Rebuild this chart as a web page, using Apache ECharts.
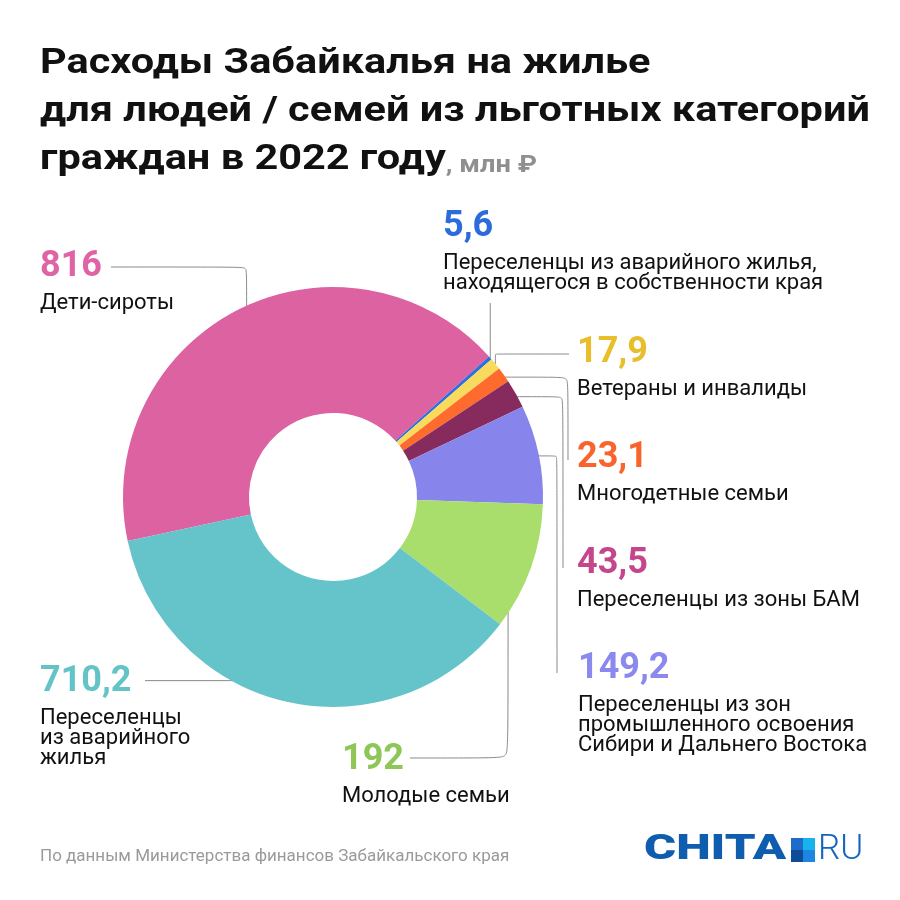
<!DOCTYPE html>
<html>
<head>
<meta charset="utf-8">
<script src="https://cdn.jsdelivr.net/npm/echarts@6.0.0/dist/echarts.min.js"></script>
<style>
html,body{margin:0;padding:0;background:#fff;}
#chart{width:900px;height:900px;}
</style>
</head>
<body>
<div id="chart"></div>
<script>
// ---- data ----
const titleLines = ['Расходы Забайкалья на жилье', 'для людей / семей из льготных категорий', 'граждан в 2022 году'];
const unitText = ', млн ₽';
const sourceText = 'По данным Министерства финансов Забайкальского края';
const categories = [
  'Дети-сироты',
  'Переселенцы из аварийного жилья,\nнаходящегося в собственности края',
  'Ветераны и инвалиды',
  'Многодетные семьи',
  'Переселенцы из зоны БАМ',
  'Переселенцы из зон\nпромышленного освоения\nСибири и Дальнего Востока',
  'Молодые семьи',
  'Переселенцы\nиз аварийного\nжилья'
];
const values = [816, 5.6, 17.9, 23.1, 43.5, 149.2, 192, 710.2];

// ---- styles ----
const sliceColors = ['#DD62A2', '#2D6FDE', '#F8DA5C', '#FF6B2C', '#872B5E', '#8785EC', '#A9DE6D', '#64C4C9'];
const labelColors = ['#E064A5', '#2B6BDC', '#E9BE2C', '#FA642C', '#C4478D', '#8B88EE', '#8EC658', '#63C3C7'];
const CX = 333, CY = 497, R0 = 84, R1 = 210, START = 192.1;
const NUM_LH = 53;
// label placement: x = left of text, y = centre of the number line; leader line routing
const labelLayoutCfg = [
  {x: 40,  y: 266.5, r: 198, shift: -1.2,  mode: 'vh', tx: 111, ty: 267},
  {x: 443, y: 227,   r: 210, shift: 0,     mode: 'v',  ty: 303},
  {x: 577, y: 353,   r: 210, shift: 0,     mode: 'vh', tx: 569, ty: 354},
  {x: 577, y: 458,   r: 206, shift: 0,     mode: 'hv', tx: 568, ty: 460},
  {x: 577, y: 563.5, r: 204, shift: 0,     mode: 'hv', tx: 563, ty: 568},
  {x: 578, y: 669,   r: 202, shift: 0,     mode: 'hv', tx: 557, ty: 673},
  {x: 342, y: 760,   r: 202, shift: -10.3, mode: 'vh', tx: 410, ty: 758},
  {x: 40,  y: 681.5, r: 201, shift: -11.4, mode: 'h',  tx: 145}
];

function fmt(v) { return String(v).replace('.', ','); }
const total = values.reduce((a, b) => a + b, 0);
function midAngle(i) {
  let c = 0;
  for (let k = 0; k < i; k++) c += values[k];
  return (START - (c + values[i] / 2) / total * 360) * Math.PI / 180;
}

const rich = {
  n: {fontFamily: 'Roboto', fontSize: 22, lineHeight: 20, color: '#111111'}
};
labelColors.forEach((c, i) => {
  rich['v' + i] = {fontFamily: 'Roboto', fontWeight: 'bold', fontSize: 36, lineHeight: NUM_LH, color: c};
});

const seriesData = values.map((v, i) => ({
  value: v,
  name: categories[i],
  itemStyle: {color: sliceColors[i]}
}));

const chart = echarts.init(document.getElementById('chart'), null, {renderer: 'canvas'});

chart.setOption({
  backgroundColor: '#ffffff',
  animation: false,
  series: [{
    type: 'pie',
    silent: true,
    center: [CX, CY],
    radius: [R0, R1],
    startAngle: START,
    clockwise: true,
    avoidLabelOverlap: false,
    data: seriesData,
    label: {
      show: true,
      position: 'outer',
      align: 'left',
      formatter: p => '{v' + p.dataIndex + '|' + fmt(p.value) + '}\n' +
        p.name.split('\n').map(s => '{n|' + s + '}').join('\n'),
      rich: rich
    },
    labelLine: {
      show: true,
      length: 10,
      length2: 10,
      smooth: 0.06,
      lineStyle: {color: '#8a8a8a', width: 1}
    },
    labelLayout: function (p) {
      const i = p.dataIndex;
      const L = labelLayoutCfg[i];
      let ang;
      if (p.labelLinePoints && p.labelLinePoints.length) {
        const q = p.labelLinePoints[0];
        ang = Math.atan2(-(q[1] - CY), q[0] - CX);
      } else {
        ang = midAngle(i);
      }
      ang += L.shift * Math.PI / 180;
      const ax = CX + L.r * Math.cos(ang);
      const ay = CY - L.r * Math.sin(ang);
      let pts;
      if (L.mode === 'v') pts = [[ax, ay], [ax, L.ty]];
      else if (L.mode === 'h') pts = [[ax, ay], [L.tx, ay]];
      else if (L.mode === 'vh') pts = [[ax, ay], [ax, L.ty], [L.tx, L.ty]];
      else pts = [[ax, ay], [L.tx, ay], [L.tx, L.ty]];
      return {
        x: L.x,
        y: L.y - NUM_LH / 2,
        align: 'left',
        verticalAlign: 'top',
        labelLinePoints: pts
      };
    },
    emphasis: {disabled: true}
  }],
  graphic: [
    {
      type: 'text', x: 40, y: 34, scaleX: 1.185,
      style: {
        text: titleLines.map((t, i) => '{t|' + t + '}' + (i === titleLines.length - 1 ? '{u|' + unitText + '}' : '')).join('\n'),
        verticalAlign: 'top',
        rich: {
          t: {fontFamily: 'Roboto', fontWeight: 'bold', fontSize: 35, lineHeight: 48, fill: '#111111', verticalAlign: 'bottom'},
          u: {fontFamily: 'Roboto', fontWeight: 'bold', fontSize: 23, lineHeight: 40, fill: '#8f8f8f', verticalAlign: 'bottom'}
        }
      }
    },
    {
      type: 'text', left: 40, top: 848,
      style: {text: sourceText, font: '17px Roboto', fill: '#9a9a9a'}
    },
    {
      type: 'group', x: 644, y: 837,
      children: [
        {type: 'text', x: 0, y: 13, scaleX: 1.40, style: {text: 'CHITA', font: '900 35px Roboto', fill: '#0F5DAF', verticalAlign: 'middle'}},
        {type: 'rect', shape: {x: 147, y: 1, width: 12, height: 12}, style: {fill: '#1F6BC9'}},
        {type: 'rect', shape: {x: 159, y: 1, width: 12, height: 12}, style: {fill: '#17B3EC'}},
        {type: 'rect', shape: {x: 147, y: 13, width: 12, height: 12}, style: {fill: '#0E4C99'}},
        {type: 'rect', shape: {x: 159, y: 13, width: 12, height: 12}, style: {fill: '#1D86E0'}},
        {type: 'text', x: 174, y: 13, style: {text: 'RU', font: '300 35px Roboto', fill: '#1565C0', verticalAlign: 'middle'}}
      ]
    }
  ]
});
</script>
</body>
</html>
